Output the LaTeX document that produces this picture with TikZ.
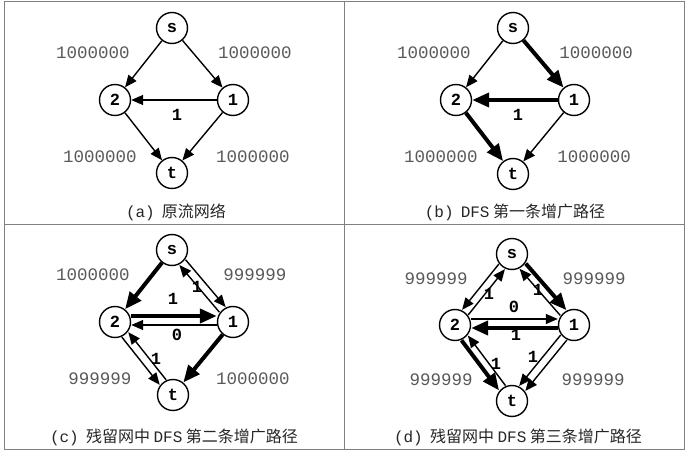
\documentclass[tikz,border=0pt]{standalone}
\usepackage{fontspec}
\setmonofont{Liberation Mono}
\newfontfamily\cjkfont{Noto Sans CJK SC}
\usetikzlibrary{arrows.meta}

\begin{document}
\begin{tikzpicture}[x=1pt,y=-1pt]
\tikzstyle{Vertex} = [draw, circle, line width=1.4pt, minimum size=31pt, inner sep=0pt, fill=white, font=\fontsize{17}{17}\selectfont\ttfamily\bfseries]
\tikzstyle{Capacity} = [inner sep=0pt, text=black!65, font=\fontsize{17.5}{17.5}\selectfont\ttfamily]
\tikzstyle{Flow} = [inner sep=0pt, font=\fontsize{17}{17}\selectfont\ttfamily\bfseries]
\tikzstyle{Caption} = [inner sep=0pt, text=black!85, font=\fontsize{16}{16}\selectfont\cjkfont]
\tikzstyle{Arc} = [line width=1.4pt, -{Triangle[length=12pt,width=10pt]}]
\tikzstyle{PathArc} = [line width=4pt, -{Triangle[length=17pt,width=14pt]}]

\useasboundingbox (0,0) rectangle (693,454);
\draw [black!50, line width=1pt] (4,2) rectangle (684,449);
\draw [black!50, line width=1pt] (4,225) -- (684,225);
\draw [black!50, line width=1pt] (344,2) -- (344,449);

% (a)
\node [Vertex] (sA) at (172,28) {s};
\node [Vertex] (v2A) at (115,100) {2};
\node [Vertex] (v1A) at (233,100) {1};
\node [Vertex] (tA) at (172,173) {t};
\draw [Arc] (sA) edge (v2A);
\draw [Arc] (sA) edge (v1A);
\draw [Arc] (v1A) edge (v2A);
\draw [Arc] (v2A) edge (tA);
\draw [Arc] (v1A) edge (tA);
\node [Capacity] (cA1) at (93,53) {1000000};
\node [Capacity] (cA2) at (255,53) {1000000};
\node [Capacity] (cA3) at (100,157) {1000000};
\node [Capacity] (cA4) at (253,157) {1000000};
\node [Flow] (fA1) at (177,115) {1};
\node [Caption] (capA) at (176,212) {{\ttfamily (a)}\ \ 原流网络};

% (b)
\node [Vertex] (sB) at (513,28) {s};
\node [Vertex] (v2B) at (456,100) {2};
\node [Vertex] (v1B) at (574,100) {1};
\node [Vertex] (tB) at (513,174) {t};
\draw [Arc] (sB) edge (v2B);
\draw [PathArc] (sB) edge (v1B);
\draw [PathArc] (v1B) edge (v2B);
\draw [PathArc] (v2B) edge (tB);
\draw [Arc] (v1B) edge (tB);
\node [Capacity] (cB1) at (434,53) {1000000};
\node [Capacity] (cB2) at (596,53) {1000000};
\node [Capacity] (cB3) at (441,157) {1000000};
\node [Capacity] (cB4) at (594,157) {1000000};
\node [Flow] (fB1) at (518,115) {1};
\node [Caption] (capB) at (515,212) {{\ttfamily (b)}\ \ {\ttfamily DFS} 第一条增广路径};

% (c)
\node [Vertex] (sC) at (172,250) {s};
\node [Vertex] (v2C) at (115,322) {2};
\node [Vertex] (v1C) at (233,322) {1};
\node [Vertex] (tC) at (173,395) {t};
\draw [PathArc] (sC) edge (v2C);
\draw [Arc, transform canvas={shift={(3.1,-2.6)}}] (sC) -- (v1C);
\draw [Arc, transform canvas={shift={(-3.1,2.6)}}] (v1C) -- (sC);
\draw [PathArc, transform canvas={shift={(0,-6)}}] (v2C) -- (v1C);
\draw [Arc, transform canvas={shift={(0,3)}}] (v1C) -- (v2C);
\draw [Arc, transform canvas={shift={(-3.2,2.5)}}] (v2C) -- (tC);
\draw [Arc, transform canvas={shift={(3.2,-2.5)}}] (tC) -- (v2C);
\draw [PathArc] (v1C) edge (tC);
\node [Capacity] (cC1) at (93,275) {1000000};
\node [Capacity] (cC2) at (255,275) {999999};
\node [Capacity] (cC3) at (100,379) {999999};
\node [Capacity] (cC4) at (253,379) {1000000};
\node [Flow] (fC1) at (173,299) {1};
\node [Flow] (fC2) at (177,335) {0};
\node [Flow] (fC3) at (197,287) {1};
\node [Flow] (fC4) at (156,359) {1};
\node [Caption] (capC) at (174,437) {{\ttfamily (c)}\ \ 残留网中 {\ttfamily DFS} 第二条增广路径};

% (d)
\node [Vertex] (sD) at (512,254) {s};
\node [Vertex] (v2D) at (455,325) {2};
\node [Vertex] (v1D) at (574,325) {1};
\node [Vertex] (tD) at (512,401) {t};
\draw [Arc, transform canvas={shift={(-3.1,-2.5)}}] (sD) -- (v2D);
\draw [Arc, transform canvas={shift={(3.1,2.5)}}] (v2D) -- (sD);
\draw [PathArc, transform canvas={shift={(3.1,-2.6)}}] (sD) -- (v1D);
\draw [Arc, transform canvas={shift={(-3.1,2.6)}}] (v1D) -- (sD);
\draw [Arc, transform canvas={shift={(0,-6)}}] (v2D) -- (v1D);
\draw [PathArc, transform canvas={shift={(0,3)}}] (v1D) -- (v2D);
\draw [PathArc, transform canvas={shift={(-3.2,2.4)}}] (v2D) -- (tD);
\draw [Arc, transform canvas={shift={(3.2,-2.4)}}] (tD) -- (v2D);
\draw [Arc, transform canvas={shift={(-3.1,-2.5)}}] (v1D) -- (tD);
\draw [Arc, transform canvas={shift={(3.1,2.5)}}] (v1D) -- (tD);
\node [Capacity] (cD1) at (436,279) {999999};
\node [Capacity] (cD2) at (594,279) {999999};
\node [Capacity] (cD3) at (441,380) {999999};
\node [Capacity] (cD4) at (593,380) {999999};
\node [Flow] (fD1) at (489,294) {1};
\node [Flow] (fD2) at (538,290) {1};
\node [Flow] (fD3) at (514,307) {0};
\node [Flow] (fD4) at (516,335) {1};
\node [Flow] (fD5) at (496,364) {1};
\node [Flow] (fD6) at (533,357) {1};
\node [Caption] (capD) at (518,437) {{\ttfamily (d)}\ \ 残留网中 {\ttfamily DFS} 第三条增广路径};
\end{tikzpicture}
\end{document}
